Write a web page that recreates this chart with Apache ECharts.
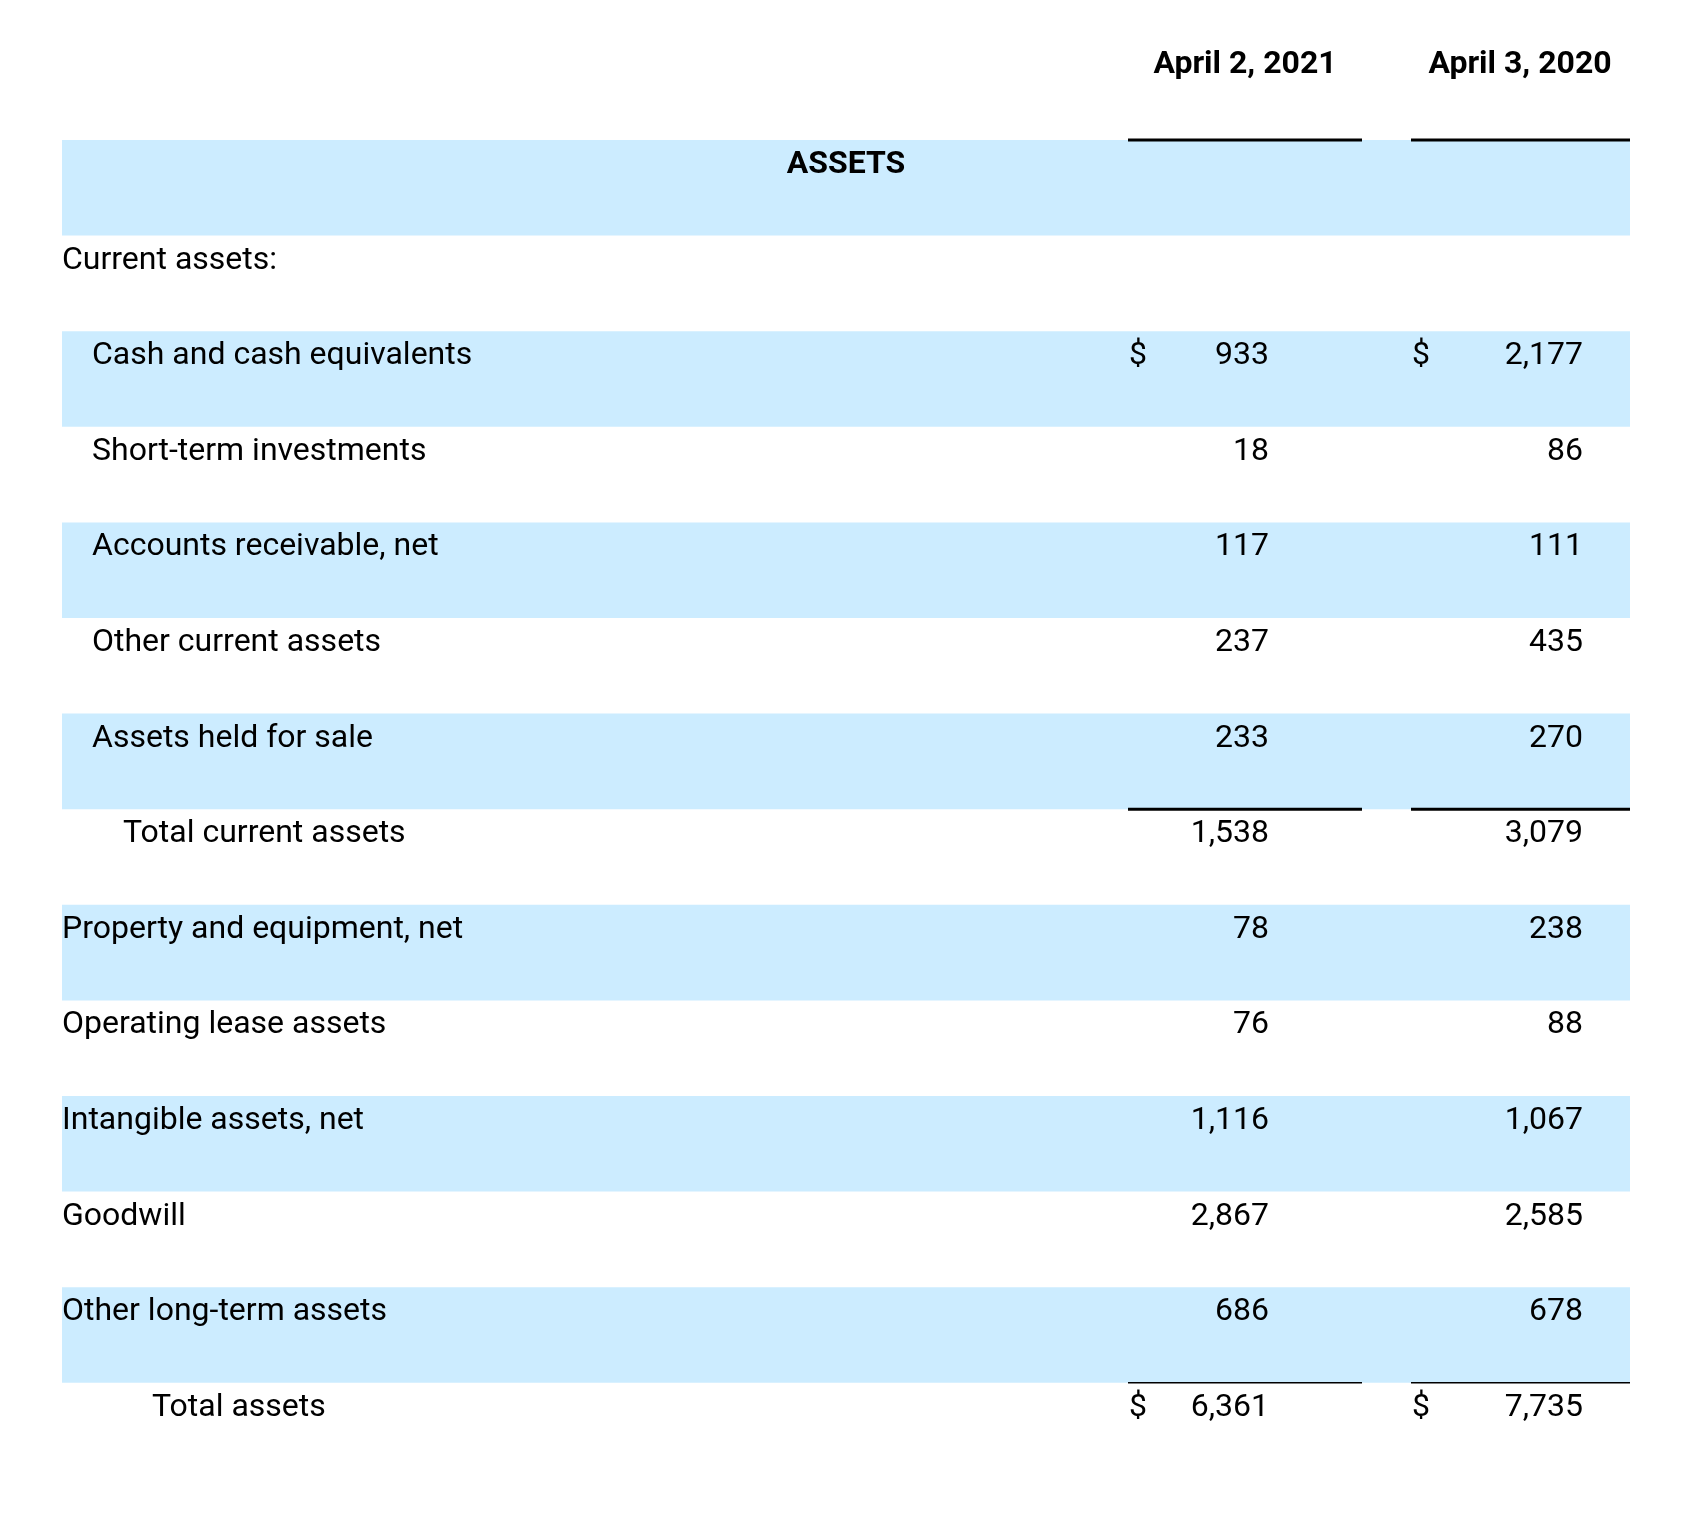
<!DOCTYPE html>
<html>
<head>
<meta charset="utf-8">
<script src="https://cdn.jsdelivr.net/npm/echarts@6/dist/echarts.min.js"></script>
<style>html,body{margin:0;padding:0;background:#fff}#c{width:1704px;height:1520px}</style>
</head>
<body>
<div id="c"></div>
<script>
const columnHeaders = ['April 2, 2021', 'April 3, 2020'];
const rowLabels = ['', 'ASSETS', 'Current assets:', 'Cash and cash equivalents', 'Short-term investments',
  'Accounts receivable, net', 'Other current assets', 'Assets held for sale', 'Total current assets',
  'Property and equipment, net', 'Operating lease assets', 'Intangible assets, net', 'Goodwill',
  'Other long-term assets', 'Total assets'];
const rowLevels = [0, 0, 0, 1, 1, 1, 1, 1, 2, 0, 0, 0, 0, 0, 3];
const values2021 = [null, null, null, 933, 18, 117, 237, 233, 1538, 78, 76, 1116, 2867, 686, 6361];
const values2020 = [null, null, null, 2177, 86, 111, 435, 270, 3079, 238, 88, 1067, 2585, 678, 7735];
const dollarRows = [3, 14];
const shadedRows = [1, 3, 5, 7, 9, 11, 13];
const ruleAfterRows = [0, 7, 13];
const thinRuleRows = [13];

// layout (styles)
const FONT = 'Roboto';
const FS = 32;
const BAND_L = 62, BAND_R = 1630;
const INDENT = [62, 92, 123, 152];
const COLS = [
  { ruleL: 1128, ruleR: 1362, dollar: 1129, right: 1269, headCenter: 1245 },
  { ruleL: 1411, ruleR: 1630, dollar: 1412, right: 1583, headCenter: 1520 }
];
const TEXT_DY = 25;

const chart = echarts.init(document.getElementById('c'), null, { renderer: 'canvas' });
const fmt = v => v.toLocaleString('en-US');

function renderItem(params, api) {
  const r = api.value(0);
  const c = api.coord([0, r]);
  const h = api.size([0, 1])[1];
  const top = c[1] - h / 2;
  const ty = top + TEXT_DY;
  const children = [];
  const xL = api.coord([BAND_L, r])[0];
  const xR = api.coord([BAND_R, r])[0];
  if (shadedRows.includes(r)) {
    children.push({ type: 'rect', shape: { x: xL, y: top, width: xR - xL, height: h },
      style: { fill: '#ccecff' }, z2: 0 });
  }
  if (r === 0) {
    columnHeaders.forEach((t, i) => {
      children.push({ type: 'text', style: { text: t, x: api.coord([COLS[i].headCenter, r])[0], y: ty - 4,
        font: 'bold ' + FS + 'px ' + FONT, fill: '#000', align: 'center', verticalAlign: 'middle' }, z2: 2 });
    });
  } else if (r === 1) {
    children.push({ type: 'text', style: { text: rowLabels[r], x: (xL + xR) / 2, y: ty,
      font: 'bold ' + FS + 'px ' + FONT, fill: '#000', align: 'center', verticalAlign: 'middle' }, z2: 2 });
  } else {
    children.push({ type: 'text', style: { text: rowLabels[r], x: api.coord([INDENT[rowLevels[r]], r])[0], y: ty,
      font: FS + 'px ' + FONT, fill: '#000', align: 'left', verticalAlign: 'middle' }, z2: 2 });
  }
  [values2021, values2020].forEach((arr, i) => {
    const v = arr[r];
    if (v !== null && v !== undefined) {
      children.push({ type: 'text', style: { text: fmt(v), x: api.coord([COLS[i].right, r])[0], y: ty,
        font: FS + 'px ' + FONT, fill: '#000', align: 'right', verticalAlign: 'middle' }, z2: 2 });
      if (dollarRows.includes(r)) {
        children.push({ type: 'text', style: { text: '$', x: api.coord([COLS[i].dollar, r])[0], y: ty,
          font: FS + 'px ' + FONT, fill: '#000', align: 'left', verticalAlign: 'middle' }, z2: 2 });
      }
    }
  });
  if (ruleAfterRows.includes(r)) {
    const lw = thinRuleRows.includes(r) ? 1.6 : 3;
    COLS.forEach(col => {
      const a = api.coord([col.ruleL, r])[0], b = api.coord([col.ruleR, r])[0];
      const y = top + h;
      children.push({ type: 'line', shape: { x1: a, y1: y, x2: b, y2: y },
        style: { stroke: '#000', lineWidth: lw }, z2: 3 });
    });
  }
  return { type: 'group', children };
}

chart.setOption({
  animation: false,
  grid: { left: 0, right: 0, top: 44.4, bottom: 41.6 },
  xAxis: { type: 'value', min: 0, max: 1704, show: false },
  yAxis: { type: 'category', data: rowLabels.map((l, i) => String(i)), inverse: true, show: false },
  series: [{
    type: 'custom',
    renderItem,
    data: rowLabels.map((l, i) => [i]),
    encode: { y: 0 },
    clip: false
  }]
});
</script>
</body>
</html>
